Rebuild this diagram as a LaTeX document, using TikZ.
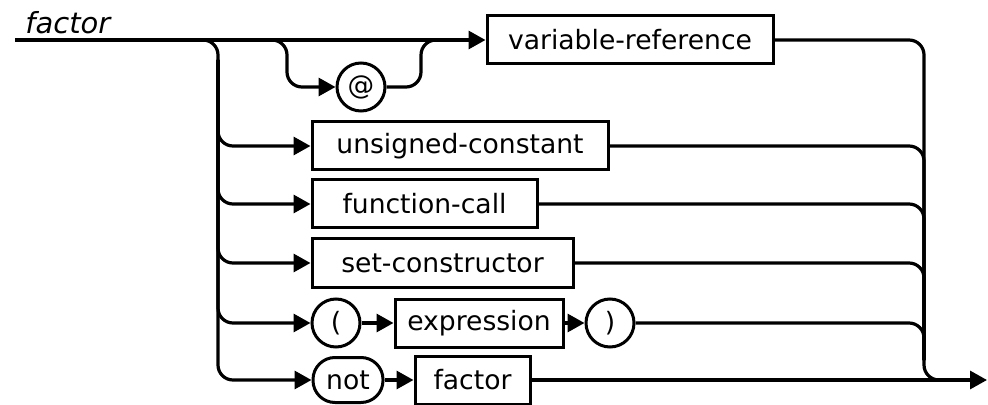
\documentclass[tikz,border=0pt]{standalone}
\usepackage{fontspec}
\setmainfont{DejaVu Sans}
\usetikzlibrary{arrows.meta, positioning}

\begin{document}
\begin{tikzpicture}[
  x=0.5pt, y=-0.5pt,
  box/.style={draw, line width=1.5pt, rectangle, minimum height=24pt, inner sep=0pt},
  lit/.style={draw, line width=1.5pt, circle, minimum size=24pt, inner sep=0pt},
  kw/.style={draw, line width=1.5pt, rounded corners=11pt, minimum height=22.5pt, minimum width=35pt, inner sep=0pt},
  wire/.style={line width=1.6pt, rounded corners=7.5pt},
  arr/.style={wire, -{Triangle[length=8.5pt, width=9pt]}},
  every node/.style={font=\fontsize{13.3}{16}\selectfont}
]
  \useasboundingbox (0,0) rectangle (988,405);
  % boxes and literals
  \node[box, minimum width=143pt] (varref) at (630,40) {variable-reference};
  \node[lit] (at) at (361,87) {@};
  \node[box, minimum width=148pt] (uconst) at (460,146) {unsigned-constant};
  \node[box, minimum width=112.5pt] (funcall) at (424.5,204) {function-call};
  \node[box, minimum width=130.5pt] (setcons) at (442.5,263) {set-constructor};
  \node[lit] (lpar) at (336,323) {(};
  \node[box, minimum width=84pt] (expr) at (479,323) {expression};
  \node[lit] (rpar) at (610,323) {)};
  \node[kw] (notkw) at (348,380) {not};
  \node[box, minimum width=57.5pt] (factref) at (472.5,380) {factor};
  \node[font=\fontsize{14.5}{17}\selectfont\itshape, anchor=base west, inner sep=0pt] (title) at (25,34) {factor};
  % junctions
  \coordinate (start) at (15,40);
  \coordinate (ltop) at (218,40);
  \coordinate (lhigh) at (218,60);
  \coordinate (aleft) at (287,40);
  \coordinate (aright) at (421,40);
  \coordinate (amerge) at (445,40);
  \coordinate (rtop) at (924,40);
  \coordinate (rlow) at (924,360);
  \coordinate (rbot) at (924,380);
  \coordinate (rjoin) at (950,380);
  \coordinate (finish) at (987,380);
  % left side
  \draw[arr] (start) -- (varref.west);
  \draw[arr] (start) -- (ltop) |- (notkw.west);
  \draw[arr] (ltop) -- (aleft) |- (at.west);
  \draw[wire] (at.east) -| (aright) -- (amerge);
  \draw[arr] (lhigh) |- (uconst.west);
  \draw[arr] (lhigh) |- (funcall.west);
  \draw[arr] (lhigh) |- (setcons.west);
  \draw[arr] (lhigh) |- (lpar.west);
  \draw[arr] (lpar) -- (expr);
  \draw[arr] (expr) -- (rpar);
  \draw[arr] (notkw) -- (factref);
  \draw[arr] (factref) -- (finish);
  % right side
  \draw[wire] (varref.east) -- (rtop) -- (rbot) -- (rjoin);
  \draw[wire] (uconst.east) -| (rlow);
  \draw[wire] (funcall.east) -| (rlow);
  \draw[wire] (setcons.east) -| (rlow);
  \draw[wire] (rpar.east) -| (rlow);
\end{tikzpicture}
\end{document}
